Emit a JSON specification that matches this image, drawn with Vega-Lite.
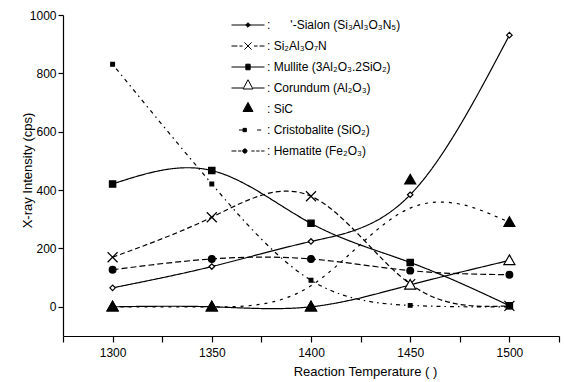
{
  "$schema": "https://vega.github.io/schema/vega-lite/v6.json",
  "autosize": {"type": "none"},
  "padding": {"left": 63, "top": 15, "right": 6, "bottom": 46},
  "width": 496,
  "height": 321,
  "background": "white",
  "config": {
    "font": "Liberation Sans",
    "view": {"stroke": null},
    "axis": {"domainColor": "black", "tickColor": "black", "labelColor": "black", "titleColor": "black", "labelFont": "Liberation Sans", "titleFont": "Liberation Sans", "labelFontSize": 12, "titleFontSize": 13, "titleFontWeight": "normal", "grid": false, "domainWidth": 1.2, "tickWidth": 1.2},
    "legend": {"labelFont": "Liberation Sans", "labelFontSize": 12, "labelColor": "black"}
  },
  "data": {"values": [
    {"series": ":\u00a0\u00a0\u00a0\u00a0\u00a0\u00a0'-Sialon (Si₃Al₃O₃N₅)", "T": 1300, "v": 65},
    {"series": ":\u00a0\u00a0\u00a0\u00a0\u00a0\u00a0'-Sialon (Si₃Al₃O₃N₅)", "T": 1350, "v": 138},
    {"series": ":\u00a0\u00a0\u00a0\u00a0\u00a0\u00a0'-Sialon (Si₃Al₃O₃N₅)", "T": 1400, "v": 224},
    {"series": ":\u00a0\u00a0\u00a0\u00a0\u00a0\u00a0'-Sialon (Si₃Al₃O₃N₅)", "T": 1450, "v": 384},
    {"series": ":\u00a0\u00a0\u00a0\u00a0\u00a0\u00a0'-Sialon (Si₃Al₃O₃N₅)", "T": 1500, "v": 931},
    {"series": ": Si₂Al₃O₇N", "T": 1300, "v": 170},
    {"series": ": Si₂Al₃O₇N", "T": 1350, "v": 307},
    {"series": ": Si₂Al₃O₇N", "T": 1400, "v": 379},
    {"series": ": Si₂Al₃O₇N", "T": 1450, "v": 78},
    {"series": ": Si₂Al₃O₇N", "T": 1500, "v": 3},
    {"series": ": Mullite (3Al₂O₃.2SiO₂)", "T": 1300, "v": 421},
    {"series": ": Mullite (3Al₂O₃.2SiO₂)", "T": 1350, "v": 467},
    {"series": ": Mullite (3Al₂O₃.2SiO₂)", "T": 1400, "v": 286},
    {"series": ": Mullite (3Al₂O₃.2SiO₂)", "T": 1450, "v": 152},
    {"series": ": Mullite (3Al₂O₃.2SiO₂)", "T": 1500, "v": 4},
    {"series": ": Corundum (Al₂O₃)", "T": 1300, "v": 0},
    {"series": ": Corundum (Al₂O₃)", "T": 1350, "v": 0},
    {"series": ": Corundum (Al₂O₃)", "T": 1400, "v": 0},
    {"series": ": Corundum (Al₂O₃)", "T": 1450, "v": 75},
    {"series": ": Corundum (Al₂O₃)", "T": 1500, "v": 159},
    {"series": "\u00a0\u00a0: SiC", "T": 1300, "v": 0},
    {"series": "\u00a0\u00a0: SiC", "T": 1350, "v": 0},
    {"series": "\u00a0\u00a0: SiC", "T": 1400, "v": 0},
    {"series": "\u00a0\u00a0: SiC", "T": 1450, "v": 435},
    {"series": "\u00a0\u00a0: SiC", "T": 1500, "v": 290},
    {"series": ": Cristobalite (SiO₂)", "T": 1300, "v": 831},
    {"series": ": Cristobalite (SiO₂)", "T": 1350, "v": 421},
    {"series": ": Cristobalite (SiO₂)", "T": 1400, "v": 91},
    {"series": ": Cristobalite (SiO₂)", "T": 1450, "v": 5},
    {"series": ": Cristobalite (SiO₂)", "T": 1500, "v": 0},
    {"series": ": Hematite (Fe₂O₃)", "T": 1300, "v": 127},
    {"series": ": Hematite (Fe₂O₃)", "T": 1350, "v": 164},
    {"series": ": Hematite (Fe₂O₃)", "T": 1400, "v": 164},
    {"series": ": Hematite (Fe₂O₃)", "T": 1450, "v": 124},
    {"series": ": Hematite (Fe₂O₃)", "T": 1500, "v": 110}
  ]},
  "layer": [
    {
      "transform": [{"filter": "datum.series !== '\u00a0\u00a0: SiC'"}],
      "mark": {"type": "line", "interpolate": "natural", "color": "black", "strokeWidth": 1.2},
      "encoding": {
        "x": {"field": "T", "type": "quantitative", "scale": {"domain": [1275, 1525], "nice": false, "zero": false},
              "axis": {"title": "Reaction Temperature (    )", "format": "d", "values": [1275, 1300, 1325, 1350, 1375, 1400, 1425, 1450, 1475, 1500, 1525],
                       "labelExpr": "(datum.value % 50 === 0 && datum.value >= 1300 && datum.value <= 1500) ? datum.label : ''",
                       "tickSize": 6, "labelPadding": 5, "titleX": 302, "titleY": 35, "titleBaseline": "middle", "titleAlign": "center", "labelFlush": false, "labelOverlap": false}},
        "y": {"field": "v", "type": "quantitative", "scale": {"domain": [-100, 1000], "nice": false, "zero": false},
              "axis": {"title": "X-ray Intensity (cps)", "format": "d", "values": [0, 100, 200, 300, 400, 500, 600, 700, 800, 900, 1000],
                       "labelExpr": "datum.value % 200 === 0 ? datum.label : ''",
                       "tickSize": {"condition": {"test": "datum.value % 200 === 0", "value": 5}, "value": 3},
                       "labelPadding": 2, "titleX": -36, "titleY": 155, "titleAlign": "center", "titleBaseline": "middle", "titleAngle": -90, "labelOverlap": false}},
        "detail": {"field": "series"},
        "strokeDash": {"field": "series", "type": "nominal", "legend": null,
          "scale": {"domain": [":\u00a0\u00a0\u00a0\u00a0\u00a0\u00a0'-Sialon (Si₃Al₃O₃N₅)", ": Si₂Al₃O₇N", ": Mullite (3Al₂O₃.2SiO₂)", ": Corundum (Al₂O₃)", ": Cristobalite (SiO₂)", ": Hematite (Fe₂O₃)"],
                    "range": [[1, 0], [5, 3], [1, 0], [1, 0], [1.5, 4, 4, 4], [6, 3]]}}
      }
    },
    {
      "transform": [{"filter": "datum.series === '\u00a0\u00a0: SiC'"}],
      "mark": {"type": "line", "interpolate": "basis", "color": "black", "strokeWidth": 1.2, "strokeDash": [3, 5]},
      "encoding": {
        "x": {"field": "T", "type": "quantitative"},
        "y": {"field": "v", "type": "quantitative"}
      }
    },
    {
      "mark": {"type": "point", "stroke": "black", "strokeWidth": 1.2, "opacity": 1},
      "encoding": {
        "x": {"field": "T", "type": "quantitative"},
        "y": {"field": "v", "type": "quantitative"},
        "shape": {"field": "series", "type": "nominal", "legend": null,
          "scale": {"domain": [":\u00a0\u00a0\u00a0\u00a0\u00a0\u00a0'-Sialon (Si₃Al₃O₃N₅)", ": Si₂Al₃O₇N", ": Mullite (3Al₂O₃.2SiO₂)", ": Corundum (Al₂O₃)", "\u00a0\u00a0: SiC", ": Cristobalite (SiO₂)", ": Hematite (Fe₂O₃)"],
                    "range": ["diamond", "M-1,-1L1,1M-1,1L1,-1", "square", "M0,-1L1,0.75L-1,0.75Z", "M0,-1L1,0.75L-1,0.75Z", "square", "circle"]}},
        "fill": {"field": "series", "type": "nominal", "legend": null,
          "scale": {"domain": [":\u00a0\u00a0\u00a0\u00a0\u00a0\u00a0'-Sialon (Si₃Al₃O₃N₅)", ": Si₂Al₃O₇N", ": Mullite (3Al₂O₃.2SiO₂)", ": Corundum (Al₂O₃)", "\u00a0\u00a0: SiC", ": Cristobalite (SiO₂)", ": Hematite (Fe₂O₃)"],
                    "range": ["white", "transparent", "black", "white", "black", "black", "black"]}},
        "size": {"field": "series", "type": "nominal", "legend": null,
          "scale": {"type": "ordinal", "domain": [":\u00a0\u00a0\u00a0\u00a0\u00a0\u00a0'-Sialon (Si₃Al₃O₃N₅)", ": Si₂Al₃O₇N", ": Mullite (3Al₂O₃.2SiO₂)", ": Corundum (Al₂O₃)", "\u00a0\u00a0: SiC", ": Cristobalite (SiO₂)", ": Hematite (Fe₂O₃)"],
                    "range": [30, 100, 40, 121, 121, 14, 45]}}
      }
    },
    {
      "transform": [{"filter": "false"}],
      "mark": {"type": "point", "stroke": "black", "color": "black", "strokeWidth": 1},
      "encoding": {
        "shape": {"field": "series", "type": "nominal", "title": null,
          "scale": {"domain": [":\u00a0\u00a0\u00a0\u00a0\u00a0\u00a0'-Sialon (Si₃Al₃O₃N₅)", ": Si₂Al₃O₇N", ": Mullite (3Al₂O₃.2SiO₂)", ": Corundum (Al₂O₃)", "\u00a0\u00a0: SiC", ": Cristobalite (SiO₂)", ": Hematite (Fe₂O₃)"],
                    "range": [
                      "M-1,0H1M0,-0.14L0.14,0L0,0.14L-0.14,0Z",
                      "M-1,0H-0.64M-0.52,0H-0.33M-0.22,-0.22L0.22,0.22M-0.22,0.22L0.22,-0.22M0.36,0H0.58M0.7,0H1",
                      "M-1,0H1M-0.13,-0.17H0.13V0.17H-0.13Z",
                      "M-1,0H-0.3M0.3,0H1M0,-0.5L0.3,0.06L-0.3,0.06Z",
                      "M0,-0.4L0.3,0.15L-0.3,0.15Z",
                      "M-0.55,0H-0.3M-0.3,-0.1H-0.1V0.1H-0.3ZM0.55,0H0.8",
                      "M-1,0H-0.7M-0.6,0H-0.4M-0.32,0A0.13,0.13 0 1,1 -0.06,0A0.13,0.13 0 1,1 -0.32,0ZM0.2,0H0.4M0.5,0H0.7M0.8,0H1"
                    ]},
          "legend": {"orient": "none", "legendX": 168, "legendY": 1, "symbolSize": 1089, "clipHeight": 18, "rowPadding": 3, "labelOffset": 2, "padding": 0, "symbolStrokeColor": "black", "symbolStrokeWidth": 1, "symbolOpacity": 1, "labelBaseline": "middle"}},
        "fill": {"field": "series", "type": "nominal", "title": null,
          "scale": {"domain": [":\u00a0\u00a0\u00a0\u00a0\u00a0\u00a0'-Sialon (Si₃Al₃O₃N₅)", ": Si₂Al₃O₇N", ": Mullite (3Al₂O₃.2SiO₂)", ": Corundum (Al₂O₃)", "\u00a0\u00a0: SiC", ": Cristobalite (SiO₂)", ": Hematite (Fe₂O₃)"],
                    "range": ["black", "transparent", "black", "white", "black", "black", "black"]},
          "legend": {"orient": "none", "legendX": 168, "legendY": 1, "symbolSize": 1089, "clipHeight": 18, "rowPadding": 3, "labelOffset": 2, "padding": 0, "symbolStrokeColor": "black", "symbolStrokeWidth": 1, "symbolOpacity": 1, "labelBaseline": "middle"}},
        "stroke": {"field": "series", "type": "nominal", "title": null,
          "scale": {"domain": [":\u00a0\u00a0\u00a0\u00a0\u00a0\u00a0'-Sialon (Si₃Al₃O₃N₅)", ": Si₂Al₃O₇N", ": Mullite (3Al₂O₃.2SiO₂)", ": Corundum (Al₂O₃)", "\u00a0\u00a0: SiC", ": Cristobalite (SiO₂)", ": Hematite (Fe₂O₃)"],
                    "range": ["black", "black", "black", "black", "black", "black", "black"]},
          "legend": {"orient": "none", "legendX": 168, "legendY": 1, "symbolSize": 1089, "clipHeight": 18, "rowPadding": 3, "labelOffset": 2, "padding": 0, "symbolStrokeColor": "black", "symbolStrokeWidth": 1, "symbolOpacity": 1, "labelBaseline": "middle"}}
      }
    }
  ],
  "resolve": {"scale": {"shape": "independent", "fill": "independent", "stroke": "independent"}}
}
